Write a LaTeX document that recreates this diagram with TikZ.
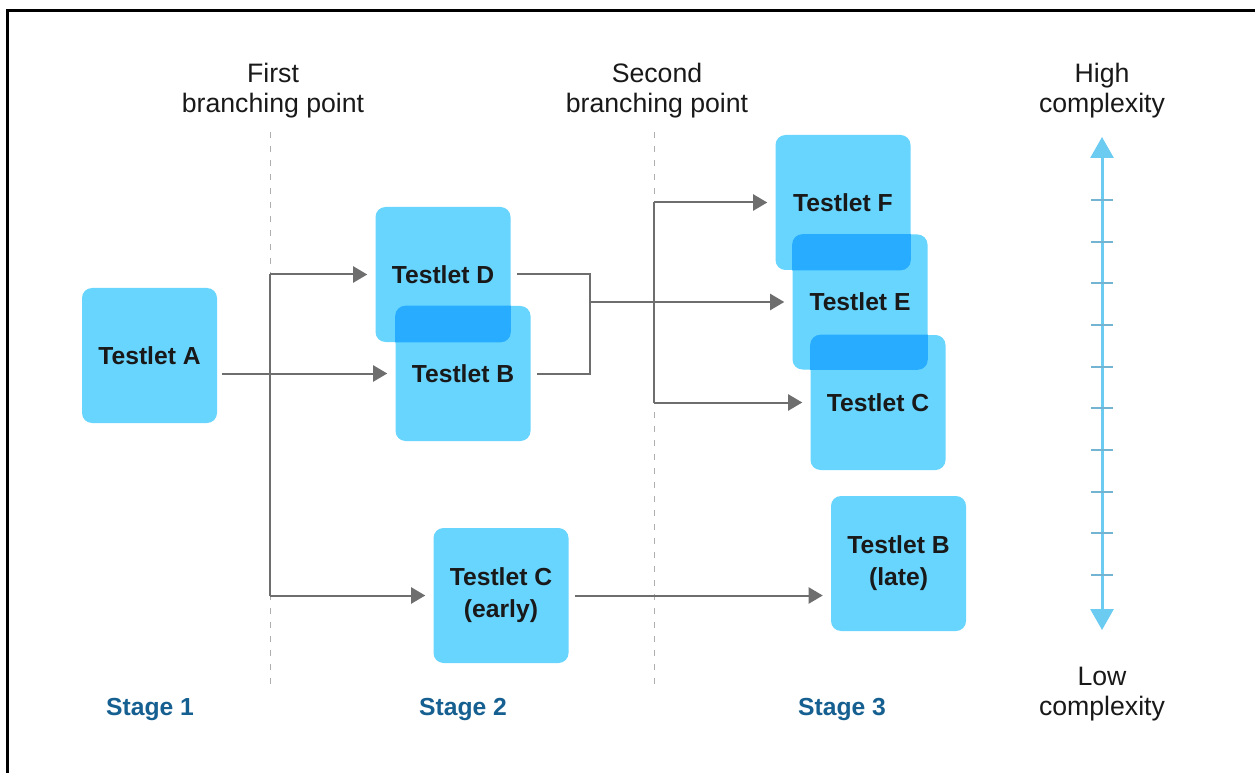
\documentclass[tikz,border=0pt]{standalone}
\usepackage{fontspec}
\setmainfont{Liberation Sans}
\usetikzlibrary{arrows.meta}
\definecolor{boxblue}{RGB}{104,213,255}
\definecolor{ovblue}{RGB}{40,172,255}
\definecolor{conncol}{RGB}{110,110,110}
\definecolor{dashgray}{RGB}{175,175,175}
\definecolor{axisblue}{RGB}{108,203,240}
\definecolor{tickblue}{RGB}{115,180,210}
\definecolor{stageblue}{RGB}{22,96,145}
\definecolor{txt}{RGB}{25,25,25}
\begin{document}
\begin{tikzpicture}[x=0.75pt,y=-0.75pt,
  testlet/.style={rounded corners=7.5pt, fill=boxblue, minimum width=101.25pt, minimum height=101.25pt,
    inner sep=0pt, align=center, text=txt, font=\fontsize{18.5}{24}\selectfont\bfseries},
  overlapfill/.style={fill=ovblue, rounded corners=7.5pt},
  conn/.style={draw=conncol, line width=1.5pt},
  arr/.style={conn, -{Triangle[length=10.5pt,width=12pt]}, shorten >=6pt},
  divider/.style={draw=dashgray, line width=0.75pt, dash pattern=on 4.5pt off 6pt},
  toplabel/.style={align=center, text=txt, inner sep=0pt, font=\fontsize{20}{22.5}\selectfont},
  stagelabel/.style={anchor=base, inner sep=0pt, text=stageblue, font=\fontsize{18.5}{22}\selectfont\bfseries},
  axisline/.style={draw=axisblue, line width=2.25pt, {Triangle[length=15.75pt,width=17.25pt]}-{Triangle[length=15.75pt,width=17.25pt]}},
  tick/.style={draw=tickblue, line width=1.5pt}
]
\useasboundingbox (0,0) rectangle (1255,773);
\fill[white] (0,0) rectangle (1255,773);
% frame (only left and top visible)
\draw[line width=2.25pt, black] (7.5,773) -- (7.5,10.5) -- (1255,10.5);

% dashed dividers
\coordinate (d1t) at (270,132);
\coordinate (d1b) at (270,690);
\coordinate (d2t) at (654,132);
\coordinate (d2b) at (654,690);
\draw[divider] (d1t) -- (d1b);
\draw[divider] (d2t) -- (d2b);

% top labels
\node[toplabel] (lab1) at (273,90.5) {First\\branching point};
\node[toplabel] (lab2) at (657,90.5) {Second\\branching point};
\node[toplabel] (labhi) at (1102,90.5) {High\\complexity};
\node[toplabel] (lablo) at (1102,694.5) {Low\\complexity};

% stage labels
\node[stagelabel] (s1) at (150,715) {Stage 1};
\node[stagelabel] (s2) at (463,715) {Stage 2};
\node[stagelabel] (s3) at (842,715) {Stage 3};

% testlets
\node[testlet] (A)  at (149.5,355.5) {Testlet A};
\node[testlet] (D)  at (443,274.5)   {Testlet D};
\node[testlet] (B)  at (463,373.5)   {Testlet B};
\node[testlet] (Ce) at (501,595.5)   {Testlet C\\(early)};
\node[testlet] (F)  at (843,202.5)   {Testlet F};
\node[testlet] (E)  at (860,302)     {Testlet E};
\node[testlet] (C3) at (878,402.5)   {Testlet C};
\node[testlet] (Bl) at (898.5,563.5) {Testlet B\\(late)};

% overlaps
\begin{scope}
  \clip[rounded corners=7.5pt] (D.south west) rectangle (D.north east);
  \fill[overlapfill] (B.south west) rectangle (B.north east);
\end{scope}
\begin{scope}
  \clip[rounded corners=7.5pt] (F.south west) rectangle (F.north east);
  \fill[overlapfill] (E.south west) rectangle (E.north east);
\end{scope}
\begin{scope}
  \clip[rounded corners=7.5pt] (E.south west) rectangle (E.north east);
  \fill[overlapfill] (C3.south west) rectangle (C3.north east);
\end{scope}

% connectors, stage 1 -> stage 2
\coordinate (b1t) at (270,274.5);
\coordinate (b1b) at (270,595.5);
\draw[arr] ([xshift=3.75pt]A.east |- B.west) -- (B.west);
\draw[conn] (b1t) -- (b1b);
\draw[arr] (b1t) -- (D.west);
\draw[arr] (b1b) -- (Ce.west);

% stage 2 -> stage 3
\coordinate (bx) at (590,302);
\draw[conn] ([xshift=4.5pt]D.east) -| (bx) |- ([xshift=4.5pt]B.east);
\draw[arr] (bx) -- (E.west);
\coordinate (b2t) at (654,202.5);
\coordinate (b2b) at (654,402.5);
\draw[conn] (b2t) -- (b2b);
\draw[arr] (b2t) -- (F.west);
\draw[arr] (b2b) -- (C3.west);
\draw[arr] ([xshift=4.5pt]Ce.east) -- (Ce.east -| Bl.west);

% complexity axis
\coordinate (axt) at (1102,137);
\coordinate (axb) at (1102,630);
\draw[axisline] (axt) -- (axb);
\foreach \k in {0,...,9}{
  \draw[tick] (1091,200+41.667*\k) -- (1113,200+41.667*\k);
}
\end{tikzpicture}
\end{document}
